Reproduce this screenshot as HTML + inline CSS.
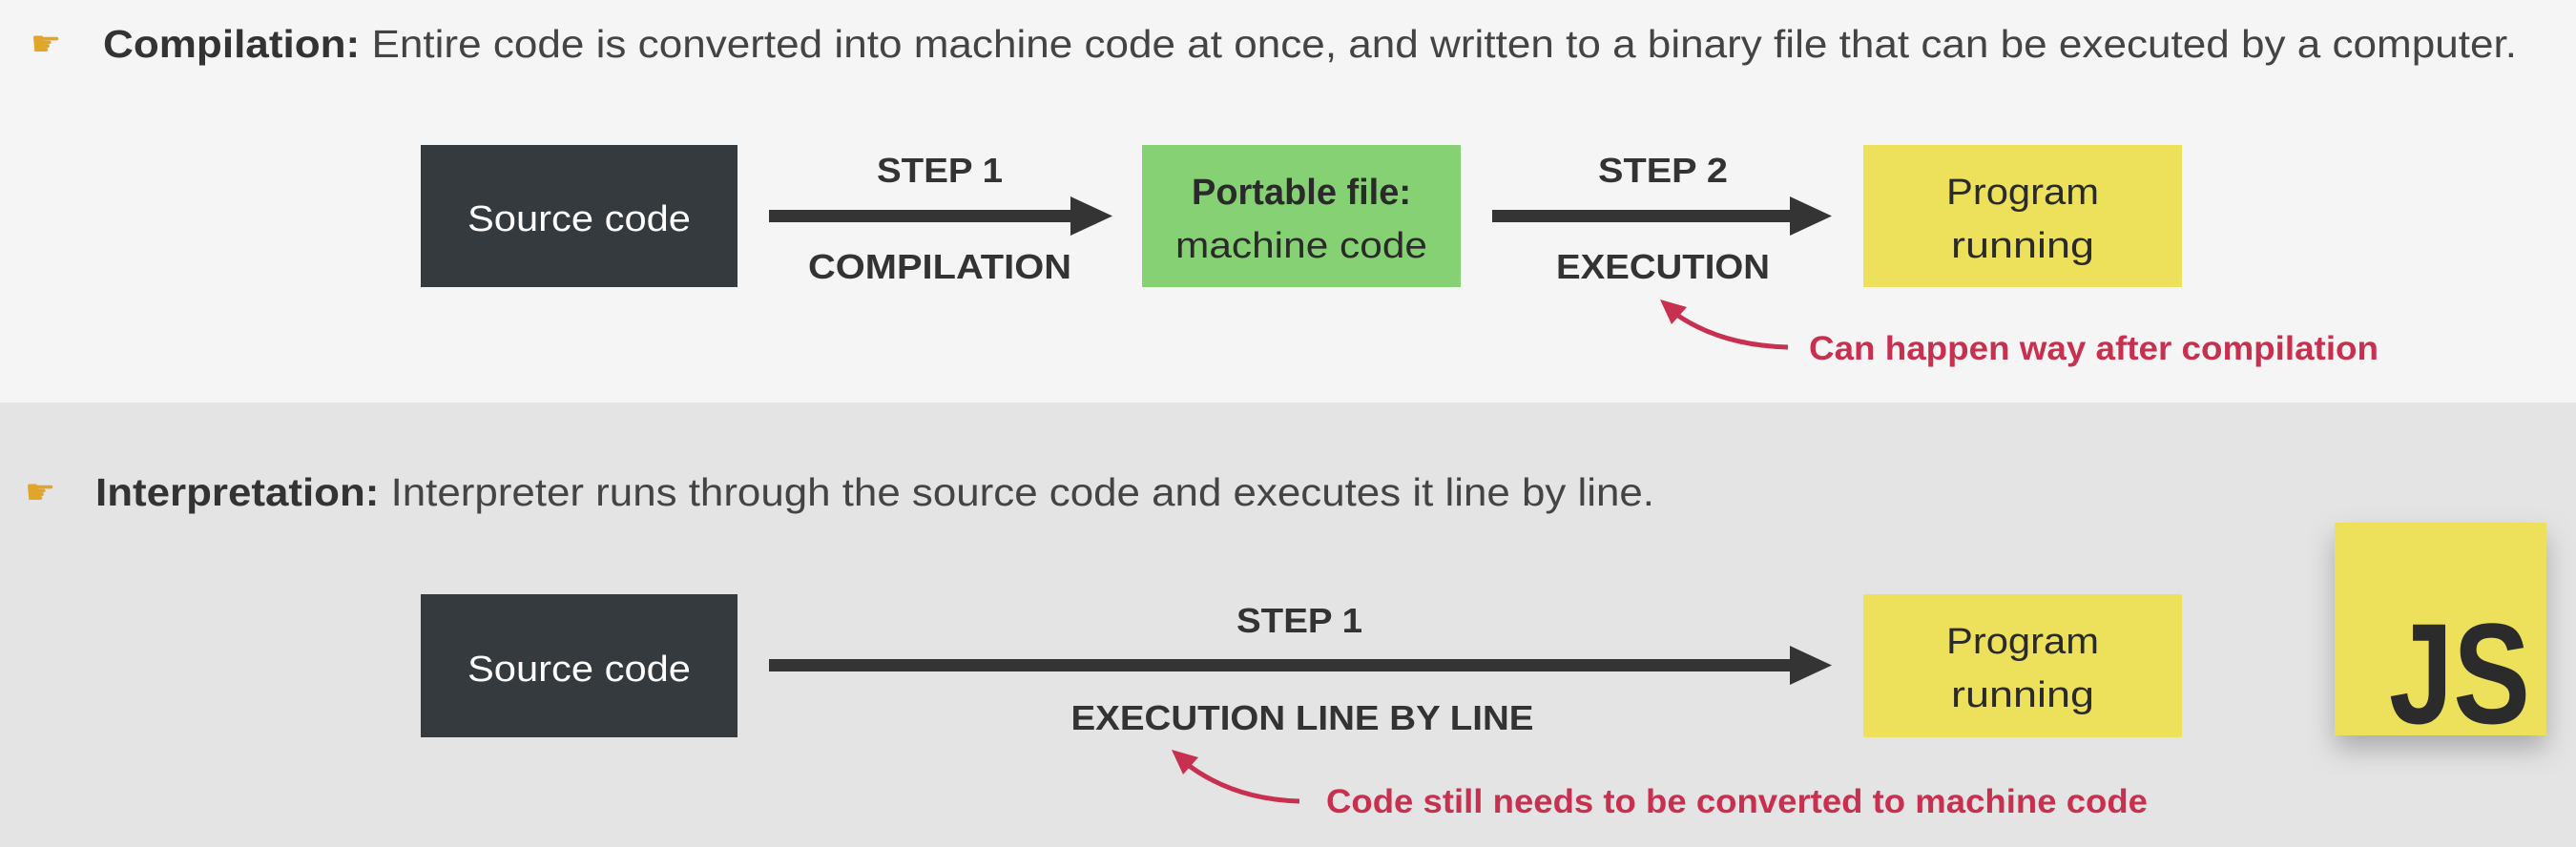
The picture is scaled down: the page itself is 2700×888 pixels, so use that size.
<!DOCTYPE html>
<html><head><meta charset="utf-8"><style>
html,body{margin:0;padding:0;width:2700px;height:888px;overflow:hidden}
svg{display:block}
text{font-family:"Liberation Sans",sans-serif}
</style></head><body>
<svg width="2700" height="888" viewBox="0 0 2700 888" xmlns="http://www.w3.org/2000/svg">
<defs>
<filter id="sh" x="-30%" y="-30%" width="160%" height="160%"><feDropShadow dx="0" dy="14" stdDeviation="14" flood-color="#000" flood-opacity="0.25"/></filter>
</defs>
<rect x="0" y="0" width="2700" height="422" fill="#f5f5f5"/>
<rect x="0" y="422" width="2700" height="466" fill="#e4e4e4"/>

<text x="32" y="58" font-size="36" fill="#e0a52a">☛</text>
<text x="108" y="60" font-size="41" fill="#444" textLength="2530" lengthAdjust="spacingAndGlyphs"><tspan font-weight="bold" fill="#333">Compilation:</tspan> Entire code is converted into machine code at once, and written to a binary file that can be executed by a computer.</text>

<rect x="441" y="152" width="332" height="149" fill="#343a3d"/>
<text x="607" y="242" font-size="38" fill="#fff" text-anchor="middle" textLength="234" lengthAdjust="spacingAndGlyphs">Source code</text>

<rect x="806" y="220" width="320" height="13" fill="#343434"/>
<polygon points="1122,206 1166,226.5 1122,247" fill="#343434"/>
<text x="985" y="191" font-size="36" font-weight="bold" fill="#333" text-anchor="middle" textLength="132" lengthAdjust="spacingAndGlyphs">STEP 1</text>
<text x="985" y="292" font-size="36" font-weight="bold" fill="#333" text-anchor="middle" textLength="276" lengthAdjust="spacingAndGlyphs">COMPILATION</text>

<rect x="1197" y="152" width="334" height="149" fill="#86d173"/>
<text x="1364" y="214" font-size="38" font-weight="bold" fill="#2a2a2a" text-anchor="middle" textLength="230" lengthAdjust="spacingAndGlyphs">Portable file:</text>
<text x="1364" y="270" font-size="38" fill="#2a2a2a" text-anchor="middle" textLength="264" lengthAdjust="spacingAndGlyphs">machine code</text>

<rect x="1564" y="220" width="316" height="13" fill="#343434"/>
<polygon points="1876,206 1920,226.5 1876,247" fill="#343434"/>
<text x="1743" y="191" font-size="36" font-weight="bold" fill="#333" text-anchor="middle" textLength="136" lengthAdjust="spacingAndGlyphs">STEP 2</text>
<text x="1743" y="292" font-size="36" font-weight="bold" fill="#333" text-anchor="middle" textLength="224" lengthAdjust="spacingAndGlyphs">EXECUTION</text>

<rect x="1953" y="152" width="334" height="149" fill="#ede05a"/>
<text x="2120" y="214" font-size="38" fill="#2a2a2a" text-anchor="middle" textLength="160" lengthAdjust="spacingAndGlyphs">Program</text>
<text x="2120" y="270" font-size="38" fill="#2a2a2a" text-anchor="middle" textLength="150" lengthAdjust="spacingAndGlyphs">running</text>

<path d="M1874,364 Q1800,362 1752,326" fill="none" stroke="#c8304f" stroke-width="5"/>
<polygon points="1740,314 1768,322 1752,340" fill="#c8304f"/>
<text x="1896" y="377" font-size="35" font-weight="bold" fill="#c8304f" textLength="597" lengthAdjust="spacingAndGlyphs">Can happen way after compilation</text>

<text x="26" y="528" font-size="36" fill="#e0a52a">☛</text>
<text x="100" y="530" font-size="41" fill="#444" textLength="1634" lengthAdjust="spacingAndGlyphs"><tspan font-weight="bold" fill="#333">Interpretation:</tspan> Interpreter runs through the source code and executes it line by line.</text>

<rect x="441" y="623" width="332" height="150" fill="#343a3d"/>
<text x="607" y="714" font-size="38" fill="#fff" text-anchor="middle" textLength="234" lengthAdjust="spacingAndGlyphs">Source code</text>

<rect x="806" y="691" width="1074" height="13" fill="#343434"/>
<polygon points="1876,677 1920,697.5 1876,718" fill="#343434"/>
<text x="1362" y="663" font-size="36" font-weight="bold" fill="#333" text-anchor="middle" textLength="132" lengthAdjust="spacingAndGlyphs">STEP 1</text>
<text x="1365" y="765" font-size="36" font-weight="bold" fill="#333" text-anchor="middle" textLength="485" lengthAdjust="spacingAndGlyphs">EXECUTION LINE BY LINE</text>

<rect x="1953" y="623" width="334" height="150" fill="#ede05a"/>
<text x="2120" y="685" font-size="38" fill="#2a2a2a" text-anchor="middle" textLength="160" lengthAdjust="spacingAndGlyphs">Program</text>
<text x="2120" y="741" font-size="38" fill="#2a2a2a" text-anchor="middle" textLength="150" lengthAdjust="spacingAndGlyphs">running</text>

<path d="M1362,840 Q1290,838 1240,798" fill="none" stroke="#c8304f" stroke-width="5"/>
<polygon points="1228,786 1256,794 1240,812" fill="#c8304f"/>
<text x="1390" y="852" font-size="35" font-weight="bold" fill="#c8304f" textLength="861" lengthAdjust="spacingAndGlyphs">Code still needs to be converted to machine code</text>

<rect x="2447" y="548" width="222" height="223" fill="#ede05a" filter="url(#sh)"/>
<text x="2578" y="758" font-size="150" font-weight="bold" fill="#2b2b2b" text-anchor="middle" textLength="148" lengthAdjust="spacingAndGlyphs">JS</text>
</svg>
</body></html>
